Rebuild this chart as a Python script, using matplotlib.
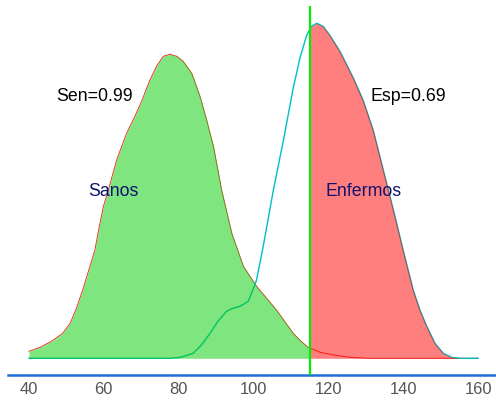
# densidades de Sanos y Enfermos con punto de corte en 115

import matplotlib.pyplot as plt
from matplotlib.patches import Rectangle

# curva de densidad de los sanos
sanos_x = [40, 43, 46, 49, 51, 52.7, 54.5, 56.3, 57.6, 58.6, 59.9, 61.2, 63.4, 66.1,
           68.3, 70.1, 72.3, 74.1, 75.9, 77.7, 79.5, 81.2, 83.5, 85.7, 87.5, 89.3,
           91.5, 94.2, 97.3, 100.8, 103.5, 106.2, 108.5, 110.6, 112.7, 114.6, 117.8,
           121.8, 125.8, 131, 140, 160]
sanos_y = [0.0007, 0.0011, 0.0017, 0.0025, 0.0035, 0.0050, 0.0070, 0.0092, 0.0108,
           0.0128, 0.0152, 0.0168, 0.0198, 0.0225, 0.0242, 0.0257, 0.0278, 0.0292,
           0.0302, 0.0304, 0.0302, 0.0297, 0.0285, 0.0262, 0.0238, 0.0212, 0.0168,
           0.0125, 0.0092, 0.0072, 0.0060, 0.0048, 0.0036, 0.0025, 0.0017, 0.0011,
           0.0006, 0.0003, 0.0001, 0.0, 0.0, 0.0]

# curva de densidad de los enfermos
enf_x = [40, 75, 78, 80.5, 83.9, 86, 88.4, 90.5, 92.8, 94.5, 96.4, 98.6, 100.8,
         102.6, 105.3, 108, 110.6, 112.4, 114.2, 115.5, 116.9, 118.6, 120.4, 123.1,
         126.7, 129.3, 132, 134.7, 137.4, 140, 142.7, 144.5, 146.3, 148.5, 150.7,
         152.9, 155.2, 160]
enf_y = [0.0, 0.0, 0.0, 0.0001, 0.0005, 0.0013, 0.0025, 0.0037, 0.0047, 0.0050,
         0.0052, 0.0057, 0.0078, 0.0112, 0.0168, 0.0218, 0.0270, 0.0300, 0.0323,
         0.0332, 0.0335, 0.0332, 0.0323, 0.0307, 0.0280, 0.0258, 0.0228, 0.0188,
         0.0148, 0.0108, 0.0068, 0.0048, 0.0032, 0.0015, 0.0005, 0.0001, 0.0, 0.0]

corte = 115
sen = 0.99
esp = 0.69

fig = plt.figure(figsize=(4.96, 4.01), dpi=100)
ax = fig.add_axes([8 / 496, 26 / 401, 488 / 496, 369 / 401])

# lineas debajo, los rellenos semitransparentes van encima
ax.plot(sanos_x, sanos_y, color='#e8382a', lw=0.7, zorder=1)
ax.plot(enf_x, enf_y, color='#00bfc4', lw=1.0, zorder=1)

f1 = ax.fill_between(sanos_x, 0, sanos_y, color='#00cc00', alpha=0.5, lw=0, zorder=2)
f1.set_clip_path(Rectangle((40, -1), corte - 40, 2, transform=ax.transData))
f2 = ax.fill_between(enf_x, 0, enf_y, color='#ff0000', alpha=0.5, lw=0, zorder=2)
f2.set_clip_path(Rectangle((corte, -1), 160 - corte, 2, transform=ax.transData))

ax.axvline(corte, color='#00ee00', lw=1.6, zorder=3)

ax.text(57.6, 0.0262, 'Sen=%.2f' % sen, ha='center', va='center', fontsize=12.8,
        family='Liberation Sans', color='black')
ax.text(141.5, 0.0262, 'Esp=%.2f' % esp, ha='center', va='center', fontsize=12.8,
        family='Liberation Sans', color='black')
ax.text(62.5, 0.0167, 'Sanos', ha='center', va='center', fontsize=12.8,
        family='Liberation Sans', color='#101070', zorder=4)
ax.text(129.5, 0.0167, 'Enfermos', ha='center', va='center', fontsize=12.8,
        family='Liberation Sans', color='#101070', zorder=4)

ax.set_xlim(34.4, 164.8)
ax.set_ylim(-0.00167, 0.03523)
ax.set_xticks([40, 60, 80, 100, 120, 140, 160])
ax.set_yticks([])
for s in ['top', 'right', 'left']:
    ax.spines[s].set_visible(False)
ax.spines['bottom'].set_color('#1e6fd9')
ax.spines['bottom'].set_linewidth(1.8)
ax.tick_params(axis='x', length=0, pad=4.8, labelsize=11.9, labelcolor='#555555')
for lab in ax.get_xticklabels():
    lab.set_family('Liberation Sans')

fig.savefig('out.png', dpi=100)
